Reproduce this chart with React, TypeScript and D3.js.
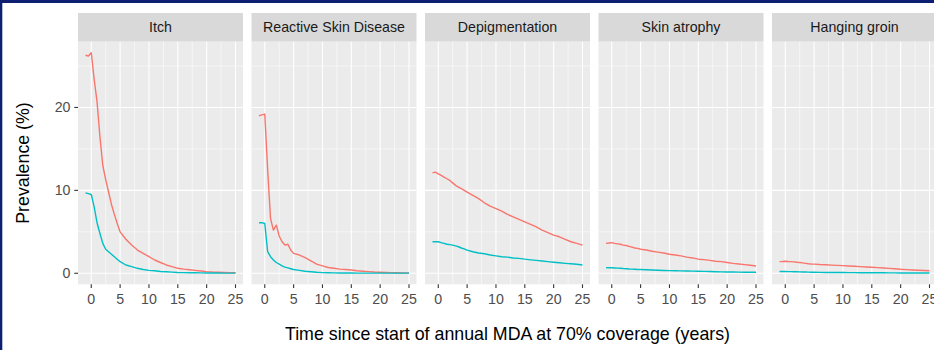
import * as d3 from "d3";

const facets = ["Itch", "Reactive Skin Disease", "Depigmentation", "Skin atrophy", "Hanging groin"];

const years = [-1, -0.5, 0, 0.5, 1, 1.5, 2, 2.5, 3, 3.5, 4, 4.5, 5, 6, 7, 8, 9, 10, 11, 12, 13, 14, 15, 16, 17, 18, 19, 20, 21, 22, 23, 24, 25];

// red series (first group)
const itchRed = [26.3, 26.2, 26.6, 23.4, 20.7, 16.5, 13.0, 11.3, 9.8, 8.3, 7.1, 6.0, 5.0, 4.1, 3.4, 2.8, 2.4, 2.0, 1.6, 1.3, 1.0, 0.8, 0.6, 0.5, 0.42, 0.35, 0.28, 0.2, 0.15, 0.12, 0.1, 0.08, 0.06];
const rsdRed = [19.0, 19.1, 19.2, 12.5, 6.6, 5.2, 5.8, 4.5, 3.8, 3.4, 3.5, 2.8, 2.4, 2.2, 1.9, 1.5, 1.1, 0.9, 0.7, 0.6, 0.5, 0.45, 0.4, 0.3, 0.25, 0.2, 0.15, 0.12, 0.1, 0.08, 0.06, 0.05, 0.05];
const depigRed = [12.1, 12.2, 12.0, 11.8, 11.6, 11.4, 11.2, 10.9, 10.6, 10.4, 10.2, 10.0, 9.8, 9.4, 9.0, 8.5, 8.1, 7.8, 7.5, 7.1, 6.8, 6.5, 6.2, 5.9, 5.6, 5.2, 4.9, 4.6, 4.4, 4.1, 3.8, 3.6, 3.4];
const atrophyRed = [3.6, 3.65, 3.7, 3.6, 3.55, 3.5, 3.4, 3.35, 3.25, 3.15, 3.05, 3.0, 2.9, 2.8, 2.65, 2.55, 2.45, 2.3, 2.2, 2.1, 1.95, 1.85, 1.7, 1.65, 1.55, 1.45, 1.4, 1.3, 1.2, 1.12, 1.04, 0.96, 0.88];
const groinRed = [1.4, 1.42, 1.45, 1.42, 1.4, 1.37, 1.33, 1.3, 1.25, 1.2, 1.15, 1.12, 1.1, 1.05, 1.02, 0.98, 0.95, 0.92, 0.88, 0.84, 0.8, 0.76, 0.72, 0.68, 0.64, 0.59, 0.54, 0.48, 0.44, 0.4, 0.37, 0.34, 0.3];

// teal series (second group)
const itchTeal = [9.7, 9.6, 9.5, 8.0, 6.1, 4.8, 3.6, 2.9, 2.6, 2.3, 2.0, 1.7, 1.4, 1.0, 0.8, 0.6, 0.45, 0.35, 0.3, 0.22, 0.18, 0.14, 0.1, 0.08, 0.07, 0.06, 0.05, 0.04, 0.03, 0.03, 0.02, 0.02, 0.02];
const rsdTeal = [6.1, 6.1, 6.0, 2.6, 2.0, 1.6, 1.3, 1.1, 0.9, 0.75, 0.65, 0.55, 0.45, 0.35, 0.25, 0.18, 0.12, 0.08, 0.06, 0.05, 0.04, 0.03, 0.03, 0.02, 0.02, 0.02, 0.02, 0.02, 0.02, 0.02, 0.02, 0.02, 0.02];
const depigTeal = [3.8, 3.8, 3.8, 3.7, 3.6, 3.5, 3.45, 3.4, 3.3, 3.2, 3.05, 2.95, 2.8, 2.6, 2.45, 2.35, 2.2, 2.1, 2.0, 1.95, 1.85, 1.8, 1.7, 1.62, 1.55, 1.48, 1.4, 1.33, 1.27, 1.2, 1.14, 1.08, 1.0];
const atrophyTeal = [0.68, 0.67, 0.66, 0.64, 0.62, 0.6, 0.57, 0.55, 0.52, 0.5, 0.48, 0.46, 0.45, 0.42, 0.4, 0.37, 0.34, 0.32, 0.31, 0.29, 0.28, 0.26, 0.25, 0.23, 0.21, 0.19, 0.17, 0.16, 0.15, 0.14, 0.13, 0.12, 0.12];
const groinTeal = [0.22, 0.22, 0.21, 0.2, 0.2, 0.19, 0.18, 0.17, 0.16, 0.15, 0.14, 0.13, 0.12, 0.11, 0.1, 0.1, 0.09, 0.09, 0.08, 0.08, 0.07, 0.07, 0.06, 0.06, 0.06, 0.05, 0.05, 0.04, 0.04, 0.04, 0.03, 0.03, 0.03];

const redSeries = [itchRed, rsdRed, depigRed, atrophyRed, groinRed];
const tealSeries = [itchTeal, rsdTeal, depigTeal, atrophyTeal, groinTeal];

const xTicks = [0, 5, 10, 15, 20, 25];
const xMinor = [2.5, 7.5, 12.5, 17.5, 22.5];
const yTicks = [0, 10, 20];
const yMinor = [5, 15, 25];

const W = 934, H = 350;
const font = "'Liberation Sans', Arial, Helvetica, sans-serif";
const panelLeft = 78, panelStep = 173.5, panelW = 165;
const panelTop = 41.7, panelBottom = 284.3, stripTop = 13;
const smallFont = 14.2, titleFont = 17.8;

const yMax = d3.max(redSeries.flat())!;
const y = d3.scaleLinear().domain([-0.05 * yMax, yMax * 1.05]).range([panelBottom, panelTop]);
const xSpan = 26;
const xDomain: [number, number] = [-1 - 0.05 * xSpan, 25 + 0.05 * xSpan];

const App = () => {
  return (
    <svg width={W} height={H} style={{ position: "absolute", left: 0, top: 0, background: "#fff" }} fontFamily={font}>
      <rect x={0} y={0} width={W} height={3} fill="#0c1f72" />
      <rect x={0} y={0} width={2.3} height={H} fill="#0c1f72" />

      {facets.map((name, i) => {
        const x0 = panelLeft + i * panelStep;
        const x = d3.scaleLinear().domain(xDomain).range([x0, x0 + panelW]);
        const line = d3.line<number>().x((_, j) => x(years[j])).y(d => y(d));
        return (
          <g key={name}>
            <rect x={x0} y={stripTop} width={panelW} height={panelTop - stripTop} fill="#d9d9d9" />
            <text x={x0 + panelW / 2} y={(stripTop + panelTop) / 2} dy="0.35em" textAnchor="middle" fontSize={smallFont} fill="#1a1a1a">{name}</text>
            <rect x={x0} y={panelTop} width={panelW} height={panelBottom - panelTop} fill="#ebebeb" />
            {yMinor.map(v => <line key={"ym" + v} x1={x0} x2={x0 + panelW} y1={y(v)} y2={y(v)} stroke="#fff" strokeWidth={0.55} />)}
            {xMinor.map(v => <line key={"xm" + v} x1={x(v)} x2={x(v)} y1={panelTop} y2={panelBottom} stroke="#fff" strokeWidth={0.55} />)}
            {yTicks.map(v => <line key={"y" + v} x1={x0} x2={x0 + panelW} y1={y(v)} y2={y(v)} stroke="#fff" strokeWidth={1.1} />)}
            {xTicks.map(v => <line key={"x" + v} x1={x(v)} x2={x(v)} y1={panelTop} y2={panelBottom} stroke="#fff" strokeWidth={1.1} />)}
            <path d={line(redSeries[i])!} fill="none" stroke="#F8766D" strokeWidth={1.4} strokeLinejoin="round" />
            <path d={line(tealSeries[i])!} fill="none" stroke="#00BFC4" strokeWidth={1.4} strokeLinejoin="round" />
            {xTicks.map(v => (
              <g key={"xt" + v}>
                <line x1={x(v)} x2={x(v)} y1={panelBottom} y2={panelBottom + 3.7} stroke="#333" strokeWidth={1.1} />
                <text x={x(v)} y={303.5} textAnchor="middle" fontSize={smallFont} fill="#4d4d4d">{v}</text>
              </g>
            ))}
          </g>
        );
      })}

      {yTicks.map(v => (
        <g key={"yt" + v}>
          <line x1={panelLeft - 3.7} x2={panelLeft} y1={y(v)} y2={y(v)} stroke="#333" strokeWidth={1.1} />
          <text x={70.5} y={y(v)} dy="0.35em" textAnchor="end" fontSize={smallFont} fill="#4d4d4d">{v}</text>
        </g>
      ))}

      <text transform={`translate(23,${(panelTop + panelBottom) / 2}) rotate(-90)`} dy="0.35em" textAnchor="middle" fontSize={titleFont} fill="#000">Prevalence (%)</text>
      <text x={panelLeft + (4 * panelStep + panelW) / 2} y={340} textAnchor="middle" fontSize={titleFont} fill="#000">Time since start of annual MDA at 70% coverage (years)</text>
    </svg>
  );
};

export default App;
